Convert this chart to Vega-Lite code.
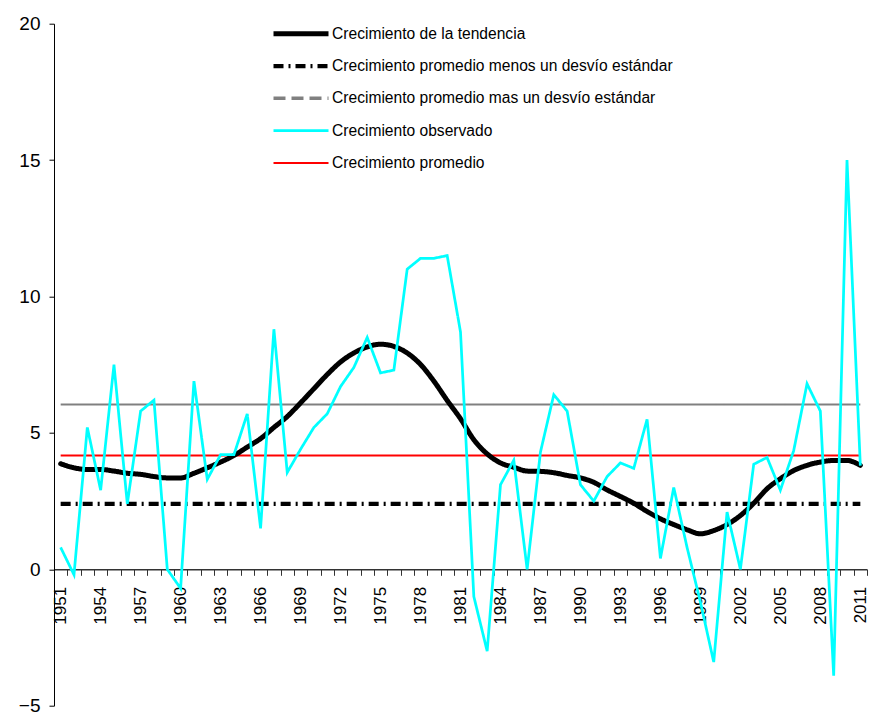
{
  "$schema": "https://vega.github.io/schema/vega-lite/v6.json",
  "width": 813,
  "height": 682,
  "autosize": {"type": "none"},
  "padding": {"left": 54, "top": 23.7, "right": 2, "bottom": 9.3},
  "background": "white",
  "config": {
    "view": {"stroke": null},
    "font": "Liberation Sans",
    "axis": {"labelFont": "Liberation Sans", "labelColor": "black"},
    "legend": {"labelFont": "Liberation Sans"}
  },
  "data": {
    "values": [
      {"year": 1951, "series": "mean", "value": 4.17},
      {"year": 2011, "series": "mean", "value": 4.17},
      {"year": 1951, "series": "hi", "value": 6.04},
      {"year": 2011, "series": "hi", "value": 6.04},
      {"year": 1951, "series": "lo", "value": 2.4},
      {"year": 2011, "series": "lo", "value": 2.4},
      {"year": 1951, "series": "trend", "value": 3.87},
      {"year": 1952, "series": "trend", "value": 3.72},
      {"year": 1953, "series": "trend", "value": 3.66},
      {"year": 1954, "series": "trend", "value": 3.66},
      {"year": 1955, "series": "trend", "value": 3.6},
      {"year": 1956, "series": "trend", "value": 3.52},
      {"year": 1957, "series": "trend", "value": 3.48},
      {"year": 1958, "series": "trend", "value": 3.4},
      {"year": 1959, "series": "trend", "value": 3.35},
      {"year": 1960, "series": "trend", "value": 3.35},
      {"year": 1961, "series": "trend", "value": 3.52},
      {"year": 1962, "series": "trend", "value": 3.72},
      {"year": 1963, "series": "trend", "value": 3.93},
      {"year": 1964, "series": "trend", "value": 4.17},
      {"year": 1965, "series": "trend", "value": 4.48},
      {"year": 1966, "series": "trend", "value": 4.79},
      {"year": 1967, "series": "trend", "value": 5.2},
      {"year": 1968, "series": "trend", "value": 5.6},
      {"year": 1969, "series": "trend", "value": 6.1},
      {"year": 1970, "series": "trend", "value": 6.62},
      {"year": 1971, "series": "trend", "value": 7.14},
      {"year": 1972, "series": "trend", "value": 7.6},
      {"year": 1973, "series": "trend", "value": 7.93},
      {"year": 1974, "series": "trend", "value": 8.15},
      {"year": 1975, "series": "trend", "value": 8.25},
      {"year": 1976, "series": "trend", "value": 8.17},
      {"year": 1977, "series": "trend", "value": 7.93},
      {"year": 1978, "series": "trend", "value": 7.51},
      {"year": 1979, "series": "trend", "value": 6.9},
      {"year": 1980, "series": "trend", "value": 6.19},
      {"year": 1981, "series": "trend", "value": 5.52},
      {"year": 1982, "series": "trend", "value": 4.75},
      {"year": 1983, "series": "trend", "value": 4.23},
      {"year": 1984, "series": "trend", "value": 3.9},
      {"year": 1985, "series": "trend", "value": 3.74},
      {"year": 1986, "series": "trend", "value": 3.6},
      {"year": 1987, "series": "trend", "value": 3.59},
      {"year": 1988, "series": "trend", "value": 3.54},
      {"year": 1989, "series": "trend", "value": 3.44},
      {"year": 1990, "series": "trend", "value": 3.35},
      {"year": 1991, "series": "trend", "value": 3.19},
      {"year": 1992, "series": "trend", "value": 2.91},
      {"year": 1993, "series": "trend", "value": 2.67},
      {"year": 1994, "series": "trend", "value": 2.42},
      {"year": 1995, "series": "trend", "value": 2.12},
      {"year": 1996, "series": "trend", "value": 1.85},
      {"year": 1997, "series": "trend", "value": 1.64},
      {"year": 1998, "series": "trend", "value": 1.45},
      {"year": 1999, "series": "trend", "value": 1.3},
      {"year": 2000, "series": "trend", "value": 1.42},
      {"year": 2001, "series": "trend", "value": 1.64},
      {"year": 2002, "series": "trend", "value": 1.97},
      {"year": 2003, "series": "trend", "value": 2.42},
      {"year": 2004, "series": "trend", "value": 2.95},
      {"year": 2005, "series": "trend", "value": 3.32},
      {"year": 2006, "series": "trend", "value": 3.62},
      {"year": 2007, "series": "trend", "value": 3.81},
      {"year": 2008, "series": "trend", "value": 3.93},
      {"year": 2009, "series": "trend", "value": 3.99},
      {"year": 2010, "series": "trend", "value": 3.99},
      {"year": 2011, "series": "trend", "value": 3.81},
      {"year": 1951, "series": "obs", "value": 0.8},
      {"year": 1952, "series": "obs", "value": -0.2},
      {"year": 1953, "series": "obs", "value": 5.2},
      {"year": 1954, "series": "obs", "value": 2.9},
      {"year": 1955, "series": "obs", "value": 7.5},
      {"year": 1956, "series": "obs", "value": 2.4},
      {"year": 1957, "series": "obs", "value": 5.8},
      {"year": 1958, "series": "obs", "value": 6.2},
      {"year": 1959, "series": "obs", "value": 0.0},
      {"year": 1960, "series": "obs", "value": -0.7},
      {"year": 1961, "series": "obs", "value": 6.9},
      {"year": 1962, "series": "obs", "value": 3.3},
      {"year": 1963, "series": "obs", "value": 4.2},
      {"year": 1964, "series": "obs", "value": 4.2},
      {"year": 1965, "series": "obs", "value": 5.7},
      {"year": 1966, "series": "obs", "value": 1.5},
      {"year": 1967, "series": "obs", "value": 8.8},
      {"year": 1968, "series": "obs", "value": 3.55},
      {"year": 1969, "series": "obs", "value": 4.4},
      {"year": 1970, "series": "obs", "value": 5.2},
      {"year": 1971, "series": "obs", "value": 5.7},
      {"year": 1972, "series": "obs", "value": 6.7},
      {"year": 1973, "series": "obs", "value": 7.4},
      {"year": 1974, "series": "obs", "value": 8.5},
      {"year": 1975, "series": "obs", "value": 7.2},
      {"year": 1976, "series": "obs", "value": 7.3},
      {"year": 1977, "series": "obs", "value": 11.0},
      {"year": 1978, "series": "obs", "value": 11.4},
      {"year": 1979, "series": "obs", "value": 11.4},
      {"year": 1980, "series": "obs", "value": 11.5},
      {"year": 1981, "series": "obs", "value": 8.7},
      {"year": 1982, "series": "obs", "value": -1.0},
      {"year": 1983, "series": "obs", "value": -3.0},
      {"year": 1984, "series": "obs", "value": 3.1},
      {"year": 1985, "series": "obs", "value": 4.0},
      {"year": 1986, "series": "obs", "value": 0.0},
      {"year": 1987, "series": "obs", "value": 4.3},
      {"year": 1988, "series": "obs", "value": 6.4},
      {"year": 1989, "series": "obs", "value": 5.8},
      {"year": 1990, "series": "obs", "value": 3.1},
      {"year": 1991, "series": "obs", "value": 2.5},
      {"year": 1992, "series": "obs", "value": 3.4},
      {"year": 1993, "series": "obs", "value": 3.9},
      {"year": 1994, "series": "obs", "value": 3.7},
      {"year": 1995, "series": "obs", "value": 5.5},
      {"year": 1996, "series": "obs", "value": 0.4},
      {"year": 1997, "series": "obs", "value": 3.0},
      {"year": 1998, "series": "obs", "value": 0.8},
      {"year": 1999, "series": "obs", "value": -1.2},
      {"year": 2000, "series": "obs", "value": -3.4},
      {"year": 2001, "series": "obs", "value": 2.1},
      {"year": 2002, "series": "obs", "value": 0.0},
      {"year": 2003, "series": "obs", "value": 3.85},
      {"year": 2004, "series": "obs", "value": 4.1},
      {"year": 2005, "series": "obs", "value": 2.9},
      {"year": 2006, "series": "obs", "value": 4.35},
      {"year": 2007, "series": "obs", "value": 6.8},
      {"year": 2008, "series": "obs", "value": 5.8},
      {"year": 2009, "series": "obs", "value": -3.9},
      {"year": 2010, "series": "obs", "value": 15.0},
      {"year": 2011, "series": "obs", "value": 3.8}
    ]
  },
  "encoding": {
    "x": {
      "field": "year",
      "type": "ordinal",
      "scale": {"type": "band", "paddingInner": 0, "paddingOuter": 0},
      "axis": {
        "title": null,
        "offset": -136.4,
        "labelAngle": 270,
        "labelAlign": "right",
        "labelBaseline": "middle",
        "labelExpr": "(datum.value - 1951) % 3 === 0 ? datum.label : ''",
        "labelOverlap": false,
        "tickBand": "extent",
        "tickSize": 6,
        "labelFontSize": 17,
        "labelPadding": 11,
        "domainColor": "#333333",
        "domainWidth": 1.5,
        "tickColor": "#333333"
      }
    },
    "y": {
      "field": "value",
      "type": "quantitative",
      "scale": {"domain": [-5, 20], "nice": false, "zero": false},
      "axis": {
        "title": null,
        "values": [-5, 0, 5, 10, 15, 20],
        "grid": false,
        "tickSize": 5,
        "labelFontSize": 19,
        "labelPadding": 9,
        "domainColor": "black",
        "tickColor": "black"
      }
    },
    "color": {
      "field": "series",
      "type": "nominal",
      "scale": {
        "domain": ["trend", "lo", "hi", "obs", "mean"],
        "range": ["#000000", "#000000", "#808080", "#00FFFF", "#FF0000"]
      },
      "legend": {
        "title": null,
        "orient": "none",
        "legendX": 217,
        "legendY": 0,
        "padding": 0,
        "symbolType": "stroke",
        "symbolSize": 3025,
        "clipHeight": 20,
        "rowPadding": 12.3,
        "labelFontSize": 15.6,
        "labelColor": "black",
        "labelOffset": 1,
        "labelLimit": 500,
        "labelExpr": "{'trend': 'Crecimiento de la tendencia', 'lo': 'Crecimiento promedio menos un desvío estándar', 'hi': 'Crecimiento promedio mas un desvío estándar', 'obs': 'Crecimiento observado', 'mean': 'Crecimiento promedio'}[datum.label]"
      }
    },
    "strokeWidth": {
      "field": "series",
      "type": "nominal",
      "scale": {
        "domain": ["trend", "lo", "hi", "obs", "mean"],
        "range": [5, 2, 1.8, 3.5, 1.6]
      },
      "legend": null
    },
    "strokeDash": {
      "field": "series",
      "type": "nominal",
      "scale": {
        "domain": ["trend", "lo", "hi", "obs", "mean"],
        "range": [[1, 0], [10, 5, 2, 5], [12, 6], [1, 0], [1, 0]]
      },
      "legend": null
    }
  },
  "layer": [
    {
      "transform": [{"filter": "datum.series === 'lo' || datum.series === 'mean'"}],
      "mark": {"type": "line"}
    },
    {
      "transform": [{"filter": "datum.series === 'hi'"}],
      "mark": {"type": "line"},
      "encoding": {
        "color": {"value": "#808080"},
        "strokeDash": {"value": [1, 0]},
        "strokeWidth": {"value": 2}
      }
    },
    {
      "transform": [{"filter": "datum.series === 'trend'"}],
      "mark": {"type": "line", "interpolate": "monotone", "strokeJoin": "round", "strokeCap": "round"}
    },
    {
      "transform": [{"filter": "datum.series === 'obs'"}],
      "mark": {"type": "line", "strokeJoin": "miter"}
    }
  ]
}
